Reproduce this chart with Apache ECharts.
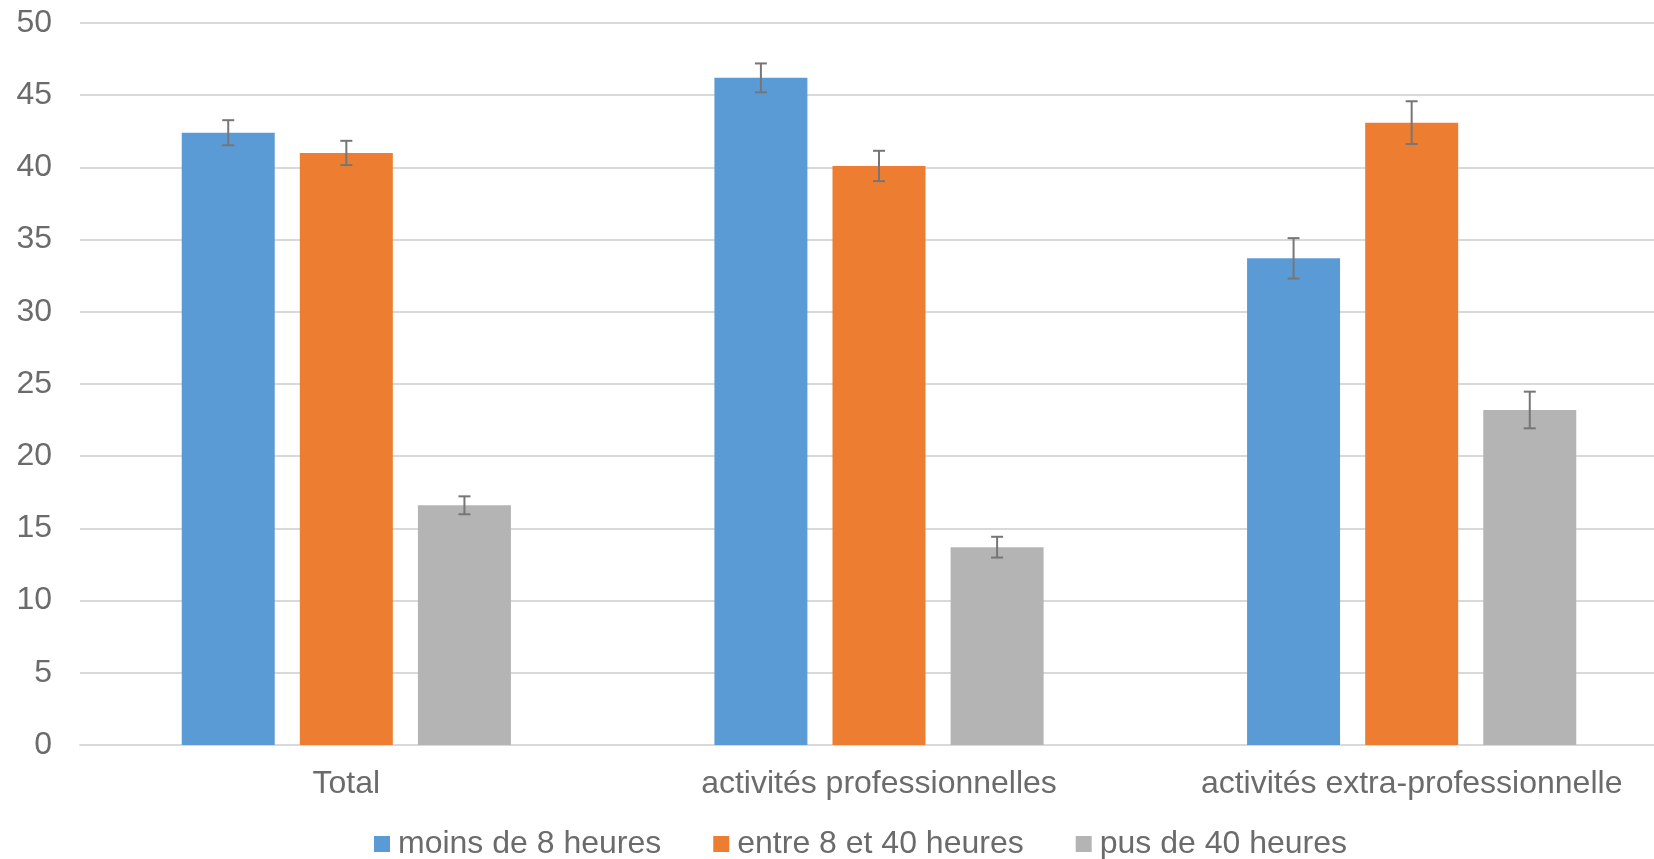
<!DOCTYPE html>
<html>
<head>
<meta charset="utf-8">
<script src="https://cdn.jsdelivr.net/npm/echarts@6/dist/echarts.min.js"></script>
<style>html,body{margin:0;padding:0;background:#fff;overflow:hidden;width:1654px;height:859px}#c{width:1700px;height:859px}</style>
</head>
<body>
<div id="c"></div>
<script>
const categories = ['Total', 'activités professionnelles', 'activités extra-professionnelle'];
const seriesNames = ['moins de 8 heures', 'entre 8 et 40 heures', 'pus de 40 heures'];
const moins8 = [42.4, 46.2, 33.7];
const entre8_40 = [41.0, 40.1, 43.1];
const plus40 = [16.6, 13.7, 23.2];
const errMoins8 = [0.87, 1.0, 1.4];
const errEntre = [0.84, 1.05, 1.48];
const errPlus40 = [0.62, 0.72, 1.27];
const yTicks = [0, 5, 10, 15, 20, 25, 30, 35, 40, 45, 50];

const colors = ['#5b9bd5', '#ed7d31', '#b4b4b4'];
const values = [moins8, entre8_40, plus40];
const errs = [errMoins8, errEntre, errPlus40];
const CAT_GAP = 0.382, BAR_GAP = 0.27, N = 3;
const textColor = '#6b6b6b';
const font = 'Liberation Sans, Arial, sans-serif';

const chart = echarts.init(document.getElementById('c'));
const series = [];
values.forEach((vals, i) => {
  series.push({
    name: seriesNames[i], type: 'bar', data: vals,
    itemStyle: { color: colors[i] },
    barGap: (BAR_GAP * 100) + '%', barCategoryGap: (CAT_GAP * 100) + '%'
  });
});
values.forEach((vals, i) => {
  series.push({
    type: 'custom', silent: true, z: 10,
    data: vals.map((v, j) => [j, v - errs[i][j], v + errs[i][j]]),
    renderItem: function (params, api) {
      const band = api.size([1, 0])[0];
      const usable = band * (1 - CAT_GAP);
      const bw = usable / (N + (N - 1) * BAR_GAP);
      const gap = bw * BAR_GAP;
      const offset = -usable / 2 + i * (bw + gap) + bw / 2;
      const lo = api.coord([api.value(0), api.value(1)]);
      const hi = api.coord([api.value(0), api.value(2)]);
      const x = lo[0] + offset;
      const cap = 6;
      const style = { stroke: '#767676', lineWidth: 2 };
      return { type: 'group', children: [
        { type: 'line', shape: { x1: x, y1: lo[1], x2: x, y2: hi[1] }, style },
        { type: 'line', shape: { x1: x - cap, y1: lo[1], x2: x + cap, y2: lo[1] }, style },
        { type: 'line', shape: { x1: x - cap, y1: hi[1], x2: x + cap, y2: hi[1] }, style }
      ]};
    },
    encode: { x: 0, y: [1, 2] }
  });
});

chart.setOption({
  animation: false,
  color: colors,
  textStyle: { fontFamily: font },
  grid: { left: 80, width: 1598, top: 23, bottom: 114, containLabel: false },
  legend: {
    data: seriesNames, left: 369, top: 823,
    itemWidth: 16, itemHeight: 16, itemGap: 52,
    icon: 'rect',
    textStyle: { fontSize: 32, color: textColor, fontFamily: font, padding: [0, 0, 0, 3] }
  },
  xAxis: {
    type: 'category', data: categories,
    axisLine: { lineStyle: { color: '#d9d9d9', width: 2 } },
    axisTick: { show: false },
    axisLabel: { fontSize: 32, color: textColor, margin: 23, interval: 0 }
  },
  yAxis: {
    type: 'value', min: yTicks[0], max: yTicks[yTicks.length - 1], interval: 5,
    axisLine: { show: false }, axisTick: { show: false },
    axisLabel: { fontSize: 32, color: textColor, margin: 28 },
    splitLine: { lineStyle: { color: '#d9d9d9', width: 2 } }
  },
  series: series
});
</script>
</body>
</html>
